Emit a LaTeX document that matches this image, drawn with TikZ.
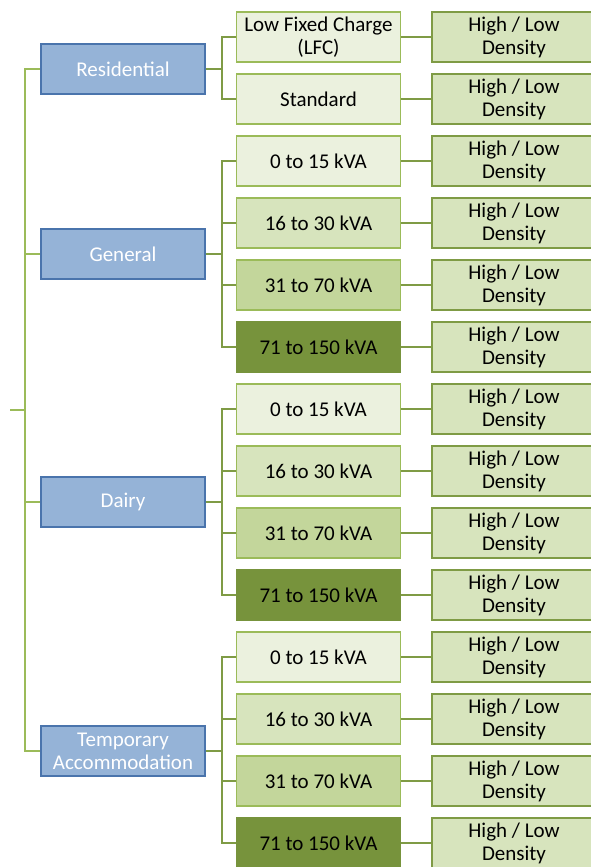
\documentclass[tikz,border=0pt]{standalone}
\usepackage{fontspec}
\setmainfont{Carlito}
\usepackage{tikz}
\usetikzlibrary{shapes,arrows}
\definecolor{catfill}{HTML}{95B3D7}
\definecolor{catline}{HTML}{4A74AC}
\definecolor{greenA}{HTML}{EBF1DE}
\definecolor{greenB}{HTML}{D7E4BD}
\definecolor{greenC}{HTML}{C3D69B}
\definecolor{greenD}{HTML}{77933C}
\definecolor{lineA}{HTML}{9BBB59}
\definecolor{lineB}{HTML}{7F9B45}
\tikzstyle{box} = [draw,rectangle,align=center,minimum height=50pt,minimum width=164pt,
                   inner sep=0pt,line width=1.2pt,font=\fontsize{21}{23}\selectfont]
\tikzstyle{cat} = [box,fill=catfill,draw=catline,text=white]
\tikzstyle{lvlA} = [box,fill=greenA,draw=lineA]
\tikzstyle{lvlB} = [box,fill=greenB,draw=lineA]
\tikzstyle{lvlC} = [box,fill=greenC,draw=lineA]
\tikzstyle{lvlD} = [box,fill=greenD,draw=greenD]
\tikzstyle{dens} = [box,fill=greenB,draw=lineB]
\tikzstyle{trunk} = [draw=lineA,line width=2pt]
\tikzstyle{link} = [draw=lineB,line width=2pt]

\begin{document}
\begin{tikzpicture}[x=1pt,y=1pt]
    \useasboundingbox (0,0) rectangle (591,-867);

    % categories
    \node[cat] (res) at (123,-69) {Residential};
    \node[cat] (gen) at (123,-254) {General};
    \node[cat] (dairy) at (123,-502) {Dairy};
    \node[cat] (temp) at (123,-751) {Temporary\\Accommodation};

    % tariffs
    \node[lvlA] (res1) at (318.5,-37) {Low Fixed Charge\\(LFC)};
    \node[lvlA] (res2) at (318.5,-99) {Standard};
    \node[lvlA] (gen1) at (318.5,-161) {0 to 15 kVA};
    \node[lvlB] (gen2) at (318.5,-223) {16 to 30 kVA};
    \node[lvlC] (gen3) at (318.5,-285) {31 to 70 kVA};
    \node[lvlD] (gen4) at (318.5,-347) {71 to 150 kVA};
    \node[lvlA] (dairy1) at (318.5,-409) {0 to 15 kVA};
    \node[lvlB] (dairy2) at (318.5,-471) {16 to 30 kVA};
    \node[lvlC] (dairy3) at (318.5,-533) {31 to 70 kVA};
    \node[lvlD] (dairy4) at (318.5,-595) {71 to 150 kVA};
    \node[lvlA] (temp1) at (318.5,-657) {0 to 15 kVA};
    \node[lvlB] (temp2) at (318.5,-719) {16 to 30 kVA};
    \node[lvlC] (temp3) at (318.5,-781) {31 to 70 kVA};
    \node[lvlD] (temp4) at (318.5,-843) {71 to 150 kVA};

    % density
    \foreach \t [count=\i from 0] in {res1,res2,gen1,gen2,gen3,gen4,dairy1,dairy2,
                                      dairy3,dairy4,temp1,temp2,temp3,temp4} {
        \node[dens] (d\t) at (514,-37-62*\i) {High / Low\\Density};
        \draw[link] (\t.east) -- (d\t.west);
    }

    % trunk
    \coordinate (root) at (10,-410);
    \coordinate (fork) at (25,-410);
    \draw[trunk] (root) -- (fork);
    \draw[trunk] (fork) |- (res.west);
    \draw[trunk] (fork) |- (gen.west);
    \draw[trunk] (fork) |- (dairy.west);
    \draw[trunk] (fork) |- (temp.west);

    % branches
    \draw[link] (res.east) -- ++(16,0) coordinate (resj);
    \draw[link] (resj) |- (res1.west);
    \draw[link] (resj) |- (res2.west);
    \foreach \c in {gen,dairy,temp} {
        \draw[link] (\c.east) -- ++(16,0) coordinate (\c j);
        \foreach \k in {1,2,3,4}
            \draw[link] (\c j) |- (\c\k.west);
    }
\end{tikzpicture}
\end{document}
